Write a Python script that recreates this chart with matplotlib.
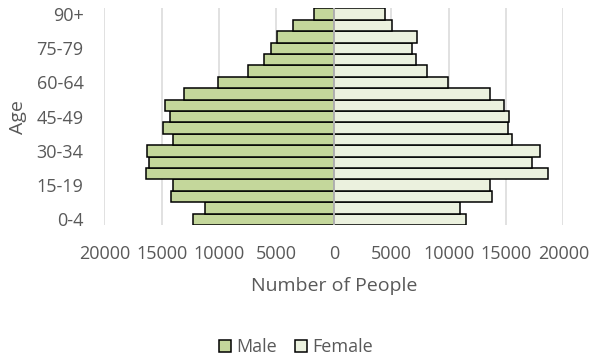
import matplotlib
matplotlib.use("Agg")
import matplotlib.pyplot as plt
from matplotlib.patches import Patch

# Age groups from youngest to oldest
age_groups = ["0-4", "5-9", "10-14", "15-19", "20-24", "25-29", "30-34",
              "35-39", "40-44", "45-49", "50-54", "55-59", "60-64",
              "65-69", "70-74", "75-79", "80-84", "85-89", "90+"]

male = [12250, 11200, 14220, 13990, 16400, 16120, 16260,
        14050, 14860, 14290, 14720, 13060, 10100,
        7450, 6110, 5470, 4950, 3550, 1750]

female = [11520, 11020, 13790, 13590, 18670, 17250, 18000,
          15560, 15210, 15240, 14800, 13610, 9950,
          8090, 7130, 6840, 7240, 5040, 4450]

x_ticks = [-20000, -15000, -10000, -5000, 0, 5000, 10000, 15000, 20000]

male_color = "#C4D79B"
female_color = "#EBF1DE"
text_color = "#595959"
font = "Open Sans"

W, H = 592, 362
fig = plt.figure(figsize=(W / 100, H / 100), dpi=100)
# plot area in pixel coordinates
left, right, top, bottom = 104.4, 563.3, 8.3, 225.0
ax = fig.add_axes([left / W, 1 - bottom / H, (right - left) / W, (bottom - top) / H])

pos = list(range(len(age_groups)))
ax.barh(pos, [-m for m in male], height=1.0, color=male_color,
        edgecolor="black", linewidth=1.1, zorder=2)
ax.barh(pos, female, height=1.0, color=female_color,
        edgecolor="black", linewidth=1.1, zorder=2)

ax.axvline(0, color="#BFBFBF", linewidth=1.3, zorder=3)

ax.set_xlim(-20000, 20000)
ax.set_ylim(-0.5, len(age_groups) - 0.5)
ax.set_xticks(x_ticks)
ax.set_xticklabels([str(abs(v)) for v in x_ticks])
ax.set_yticks(pos[::3])
ax.set_yticklabels(age_groups[::3])
ax.xaxis.grid(True, color="#D9D9D9", linewidth=1.1, zorder=0)
ax.set_axisbelow(True)
ax.tick_params(length=0, labelsize=13, labelcolor=text_color)
ax.tick_params(axis="x", pad=14.5)
ax.tick_params(axis="y", pad=15)
for lbl in ax.get_xticklabels() + ax.get_yticklabels():
    lbl.set_fontfamily(font)
for s in ax.spines.values():
    s.set_visible(False)

ax.set_xlabel("Number of People", fontsize=14, color=text_color,
              fontfamily=font, labelpad=10)
ax.set_ylabel("Age", fontsize=14, color=text_color, fontfamily=font,
              labelpad=7)

handles = [Patch(facecolor=male_color, edgecolor="black", linewidth=1.1, label="Male"),
           Patch(facecolor=female_color, edgecolor="black", linewidth=1.1, label="Female")]
fig.legend(handles=handles, loc="center", bbox_to_anchor=(0.5, 1 - 347.5 / H),
           ncol=2, frameon=False, handlelength=0.67, handleheight=0.67,
           handletextpad=0.3, columnspacing=1.0,
           prop={"family": font, "size": 13}, labelcolor=text_color)

fig.savefig("out.png", dpi=100)
